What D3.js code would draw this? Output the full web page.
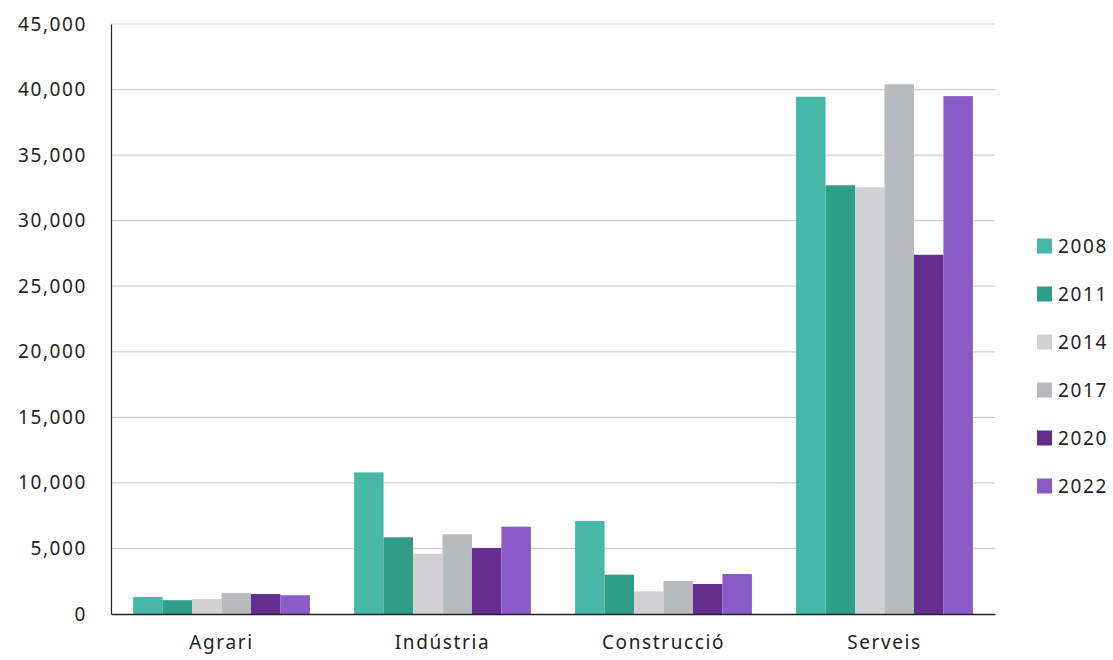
<!DOCTYPE html>
<html><head><meta charset="utf-8">
<script src="https://cdn.jsdelivr.net/npm/d3@7"></script>
<style>body{margin:0;background:#fff;} text{font-family:"Noto Sans",sans-serif;fill:#222;letter-spacing:1.6px;}</style>
</head><body>
<svg id="c" width="1113" height="660"></svg>
<script>
const categories = ["Agrari","Indústria","Construcció","Serveis"];
const years = ["2008","2011","2014","2017","2020","2022"];
const v2008 = [1300,10800,7100,39450];
const v2011 = [1050,5850,3000,32700];
const v2014 = [1140,4600,1730,32550];
const v2017 = [1600,6080,2520,40400];
const v2020 = [1520,5030,2290,27400];
const v2022 = [1430,6660,3050,39500];
const yTicks = [0,5000,10000,15000,20000,25000,30000,35000,40000,45000];
const colors = ["#47b8a7","#2e9e89","#d1d1d3","#b8bbbe","#652d8e","#8a5bc6"];

const series = [v2008,v2011,v2014,v2017,v2020,v2022];
const svg = d3.select("#c");
const L=111,R=995,T=24,B=614;
const x0 = d3.scaleBand().domain(categories).range([L,R]).padding(0);
const x1 = d3.scaleBand().domain(years).range([x0.bandwidth()*0.1, x0.bandwidth()*0.9]).padding(0);
const y = d3.scaleLinear().domain([0,45000]).range([B,T]);
const color = d3.scaleOrdinal().domain(years).range(colors);

// grid
svg.append("g").selectAll("line").data(yTicks.filter(d=>d>0)).join("line")
  .attr("x1",L).attr("x2",R).attr("y1",d=>y(d)).attr("y2",d=>y(d))
  .attr("stroke","#cfcfcf").attr("stroke-width",1.2);

// bars
const g = svg.append("g");
categories.forEach((c,ci)=>{
  g.append("g").attr("transform",`translate(${x0(c)},0)`)
    .selectAll("rect").data(years.map((yr,si)=>({yr,v:series[si][ci]}))).join("rect")
    .attr("x",d=>x1(d.yr)).attr("width",x1.bandwidth())
    .attr("y",d=>y(d.v)).attr("height",d=>B-y(d.v))
    .attr("fill",d=>color(d.yr));
});

// y axis
const ya = svg.append("g").attr("transform",`translate(${L},0)`)
  .call(d3.axisLeft(y).tickValues(yTicks).tickFormat(d3.format(",")).tickSize(0).tickPadding(24));
ya.select(".domain").attr("stroke","#222").attr("stroke-width",1.2);
ya.selectAll("text").style("font-size","19px").style("font-family","'Noto Sans',sans-serif").attr("fill","#222");

// x axis
const xa = svg.append("g").attr("transform",`translate(0,${B})`)
  .call(d3.axisBottom(x0).tickSize(0).tickPadding(22));
xa.select(".domain").attr("stroke","#222").attr("stroke-width",1.5);
xa.selectAll("text").style("font-size","19px").style("font-family","'Noto Sans',sans-serif").attr("fill","#222");

// legend
const leg = svg.append("g").attr("transform","translate(1037,0)");
years.forEach((yr,i)=>{
  const cy = 246 + i*48;
  leg.append("rect").attr("x",0).attr("y",cy-7.5).attr("width",15).attr("height",15).attr("fill",color(yr));
  leg.append("text").attr("x",21).attr("y",cy).attr("dy","0.35em").style("font-size","19px").text(yr);
});
</script>
</body></html>
